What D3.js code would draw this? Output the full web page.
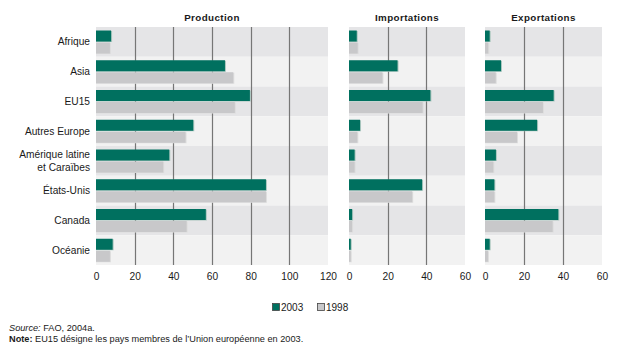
<!DOCTYPE html>
<html>
<head>
<meta charset="utf-8">
<script src="https://cdn.jsdelivr.net/npm/d3@7"></script>
<style>
  body { margin: 0; background: #fff; }
  svg text { font-family: "Liberation Sans", Arial, sans-serif; fill: #1a1a1a; }
</style>
</head>
<body>
<div id="chart"></div>
<script>
var categories = ["Afrique", "Asia", "EU15", "Autres Europe", "Amérique latine|et Caraïbes", "États-Unis", "Canada", "Océanie"];

var production2003 = [7.8, 66.7, 79.6, 50.3, 37.9, 87.9, 56.8, 8.6];
var production1998 = [7.2, 71.0, 71.8, 46.3, 34.8, 87.9, 46.9, 7.2];
var imports2003 = [4.0, 25.1, 42.1, 5.7, 2.9, 37.8, 1.6, 0.9];
var imports1998 = [4.5, 17.3, 38.1, 4.3, 2.9, 32.7, 1.6, 0.9];
var exports2003 = [2.4, 8.2, 35.2, 26.7, 5.6, 4.8, 37.6, 2.4];
var exports1998 = [1.7, 5.5, 29.7, 16.4, 4.3, 4.8, 34.7, 1.5];

var prodTicks = [0, 20, 40, 60, 80, 100, 120];
var tradeTicks = [0, 20, 40, 60];

var panels = [
  {title: "Production", a: production2003, b: production1998, max: 120, ticks: prodTicks, x0: 96, x1: 328},
  {title: "Importations", a: imports2003, b: imports1998, max: 60, ticks: tradeTicks, x0: 349, x1: 465},
  {title: "Exportations", a: exports2003, b: exports1998, max: 60, ticks: tradeTicks, x0: 485, x1: 602}
];

var size = {width: 618, height: 351, top: 27, bottom: 265};
var green = "#00705f", grey = "#c8c8ca";

var svg = d3.select("#chart").append("svg")
    .attr("width", size.width)
    .attr("height", size.height);

var y = d3.scaleBand()
    .domain(categories)
    .range([size.top, size.bottom]);

// category labels
var labels = svg.append("g").attr("class", "labels");
categories.forEach(function(c) {
  var parts = c.split("|");
  var cy = y(c) + y.bandwidth() / 2;
  var t = labels.append("text")
      .attr("text-anchor", "end")
      .style("font-size", "10.2px");
  parts.forEach(function(p, i) {
    t.append("tspan")
      .attr("x", 90)
      .attr("y", cy + (i - (parts.length - 1) / 2) * 13)
      .attr("dy", "0.35em")
      .text(p);
  });
});

panels.forEach(function(p) {
  var x = d3.scaleLinear().domain([0, p.max]).range([p.x0, p.x1]);
  var g = svg.append("g").attr("class", "panel");

  g.selectAll("rect.band")
    .data(categories)
    .enter().append("rect")
      .attr("class", "band")
      .attr("x", p.x0)
      .attr("width", p.x1 - p.x0)
      .attr("y", function(d) { return y(d); })
      .attr("height", y.bandwidth())
      .attr("fill", function(d, i) { return i % 2 == 0 ? "#e5e5e7" : "#f2f2f2"; });

  g.selectAll("line.grid")
    .data(p.ticks.filter(function(t) { return t > 0 && t < p.max; }))
    .enter().append("line")
      .attr("class", "grid")
      .attr("x1", function(d) { return Math.round(x(d)) + 0.5; })
      .attr("x2", function(d) { return Math.round(x(d)) + 0.5; })
      .attr("y1", size.top)
      .attr("y2", size.bottom)
      .attr("stroke", "#767676")
      .attr("stroke-width", 1.2);

  var rows = categories.map(function(c, i) { return {cat: c, a: p.a[i], b: p.b[i]}; });

  // bar shadows
  g.selectAll("rect.shA")
    .data(rows)
    .enter().append("rect")
      .attr("x", x(0))
      .attr("y", function(d) { return y(d.cat) + 4; })
      .attr("width", function(d) { return x(d.a) - x(0) + 1; })
      .attr("height", 11)
      .attr("fill", "#a9c6be");
  g.selectAll("rect.shB")
    .data(rows)
    .enter().append("rect")
      .attr("x", x(0))
      .attr("y", function(d) { return y(d.cat) + 16; })
      .attr("width", function(d) { return x(d.b) - x(0) + 1; })
      .attr("height", 11)
      .attr("fill", "#dddddd");

  g.selectAll("rect.barA")
    .data(rows)
    .enter().append("rect")
      .attr("class", "barA")
      .attr("x", x(0))
      .attr("y", function(d) { return y(d.cat) + 3.5; })
      .attr("width", function(d) { return x(d.a) - x(0); })
      .attr("height", 11)
      .attr("fill", green);

  g.selectAll("rect.barB")
    .data(rows)
    .enter().append("rect")
      .attr("class", "barB")
      .attr("x", x(0))
      .attr("y", function(d) { return y(d.cat) + 15.5; })
      .attr("width", function(d) { return x(d.b) - x(0); })
      .attr("height", 11)
      .attr("fill", grey);

  var axis = g.append("g")
      .attr("transform", "translate(0," + size.bottom + ")")
      .call(d3.axisBottom(x).tickValues(p.ticks).tickSize(0).tickPadding(8));
  axis.select(".domain").remove();
  axis.selectAll("text")
      .style("font-size", "10.2px")
      .style("font-family", "'Liberation Sans', Arial, sans-serif")
      .attr("fill", "#1a1a1a");

  g.append("text")
      .attr("x", (p.x0 + p.x1) / 2)
      .attr("y", 21)
      .attr("text-anchor", "middle")
      .style("font-size", "9.8px")
      .style("font-weight", "bold")
      .style("letter-spacing", "0.4px")
      .text(p.title);
});

// legend
var legend = svg.append("g").attr("class", "legend");
[{label: "2003", color: green, x: 272}, {label: "1998", color: grey, x: 317}].forEach(function(l) {
  legend.append("rect")
      .attr("x", l.x + 0.5)
      .attr("y", 303.5)
      .attr("width", 7)
      .attr("height", 7)
      .attr("fill", l.color)
      .attr("stroke", "#444")
      .attr("stroke-width", 0.8);
  legend.append("text")
      .attr("x", l.x + 9)
      .attr("y", 310.5)
      .style("font-size", "10px")
      .text(l.label);
});

// notes
var notes = svg.append("g").attr("class", "notes");
var s = notes.append("text").attr("x", 9).attr("y", 331).style("font-size", "9.2px");
s.append("tspan").style("font-style", "italic").text("Source:");
s.append("tspan").text(" FAO, 2004a.");
var n = notes.append("text").attr("x", 9).attr("y", 342).style("font-size", "9.2px");
n.append("tspan").style("font-weight", "bold").text("Note:");
n.append("tspan").text(" EU15 désigne les pays membres de l’Union européenne en 2003.");
</script>
</body>
</html>
